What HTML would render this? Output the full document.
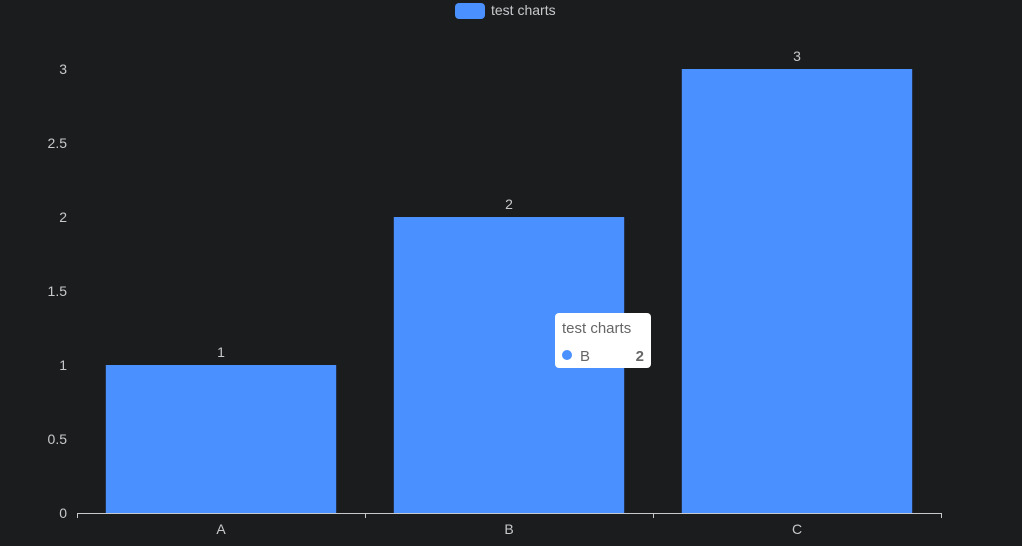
<!DOCTYPE html>
<html><head><meta charset="utf-8"><style>
html,body{margin:0;padding:0;background:#1b1c1e;}
svg{display:block;font-family:"Liberation Sans",sans-serif;}
</style></head><body>
<svg id="chart" width="1022" height="546">
<rect width="1022" height="546" fill="#1b1c1e"/>
<g>
<rect x="455" y="3" width="30" height="16" rx="4" fill="#4a90ff"/>
<text x="491" y="15" font-size="14" fill="#c8c9cc">test charts</text>
</g>
<g id="yaxis"></g>
<g id="bars"></g>
<g id="xaxis"></g>
<g>
<rect x="555" y="313" width="96" height="55" rx="4" fill="#fff"/>
<text x="562" y="333" font-size="15" fill="#666">test charts</text>
<circle cx="567" cy="355" r="5" fill="#4a90ff"/>
<text x="580" y="361" font-size="15" fill="#666">B</text>
<text x="644" y="361" font-size="15" font-weight="bold" fill="#666" text-anchor="end">2</text>
</g>
</svg>
<script>
const categories = ["A","B","C"];
const values = [1,2,3];
const yTicks = [0,0.5,1,1.5,2,2.5,3];
const yTickLabels = ["0","0.5","1","1.5","2","2.5","3"];
const NS="http://www.w3.org/2000/svg";
const x0=77,x1=941,yBase=513,yTop=69,yMax=3;
const bw=(x1-x0)/categories.length;
function y(v){return yBase-(v/yMax)*(yBase-yTop);}
function mk(tag,attrs,parent,text){const e=document.createElementNS(NS,tag);for(const k in attrs)e.setAttribute(k,attrs[k]);if(text!==undefined)e.textContent=text;parent.appendChild(e);return e;}
const ya=document.getElementById('yaxis');
yTicks.forEach((t,i)=>{
  const l=mk('text',{x:67,y:y(t)+5,'font-size':14,fill:'#c8c9cc','text-anchor':'end'},ya,yTickLabels[i]);
  
  
});
const bg=document.getElementById('bars');
categories.forEach((c,i)=>{
  const cx=x0+bw*(i+0.5), w=bw*0.8;
  const r=mk('rect',{x:cx-w/2,y:y(values[i]),width:w,height:yBase-y(values[i]),fill:'#4a90ff'},bg);
  
  
  const t=mk('text',{x:cx,y:y(values[i])-8,'font-size':14,fill:'#c8c9cc','text-anchor':'middle'},bg,String(values[i]));
  
  
});
const xa=document.getElementById('xaxis');
const ln=mk('line',{x1:x0,y1:yBase+0.5,x2:x1,y2:yBase+0.5,stroke:'#c8c9cc','stroke-width':1},xa);


for(let i=0;i<=categories.length;i++){
  const tk=mk('line',{x1:x0+bw*i+0.5,y1:yBase,x2:x0+bw*i+0.5,y2:yBase+5,stroke:'#c8c9cc'},xa);
  
  
}
categories.forEach((c,i)=>{
  const t=mk('text',{x:x0+bw*(i+0.5),y:534,'font-size':14,fill:'#c8c9cc','text-anchor':'middle'},xa,c);
  
  
});
</script>
</body></html>
